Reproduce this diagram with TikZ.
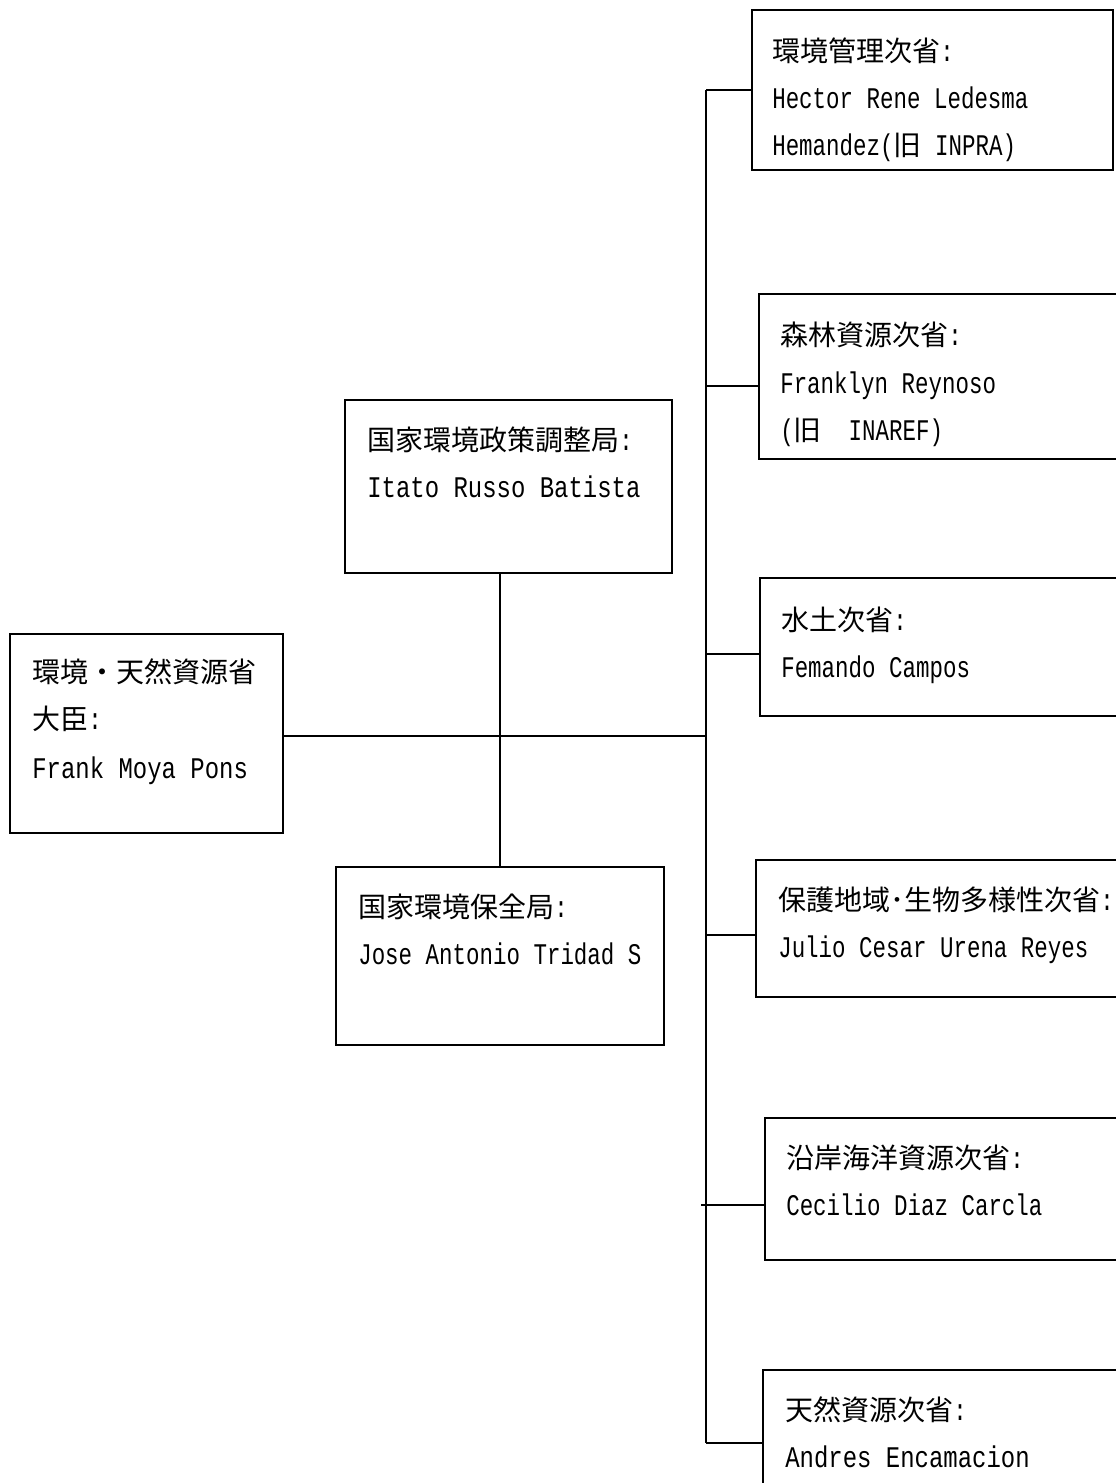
\documentclass[tikz,border=0pt]{standalone}
\usepackage{fontspec}
\setmainfont{Liberation Mono}[FakeStretch=0.75,Scale=1.07]
\newfontfamily\widelat{Liberation Mono}[FakeStretch=0.80,Scale=1.07]
\newfontfamily\cjk{Noto Sans CJK JP}
\usetikzlibrary{fit}
\newcommand\J[1]{{\cjk #1}}
\begin{document}
\begin{tikzpicture}[x=0.75pt,y=-0.75pt,
  box/.style={draw, line width=1.3pt, inner sep=0pt},
  conn/.style={line width=1.3pt},
  txt/.style={anchor=base west, inner sep=0pt, font=\fontsize{21pt}{35pt}\selectfont},
  wtxt/.style={txt, font=\fontsize{21pt}{35pt}\selectfont\widelat}]
\useasboundingbox (0,0) rectangle (1115,1483);
\fill[white] (0,0) rectangle (1115,1483);

% boxes
\node[box, fit={(752,10) (1113,170)}] (b1) {};
\node[box, fit={(759,294) (1120,459)}] (b2) {};
\node[box, fit={(760,578) (1120,716)}] (b3) {};
\node[box, fit={(756,860) (1120,997)}] (b4) {};
\node[box, fit={(765,1118) (1120,1260)}] (b5) {};
\node[box, fit={(763,1370) (1120,1495)}] (b6) {};
\node[box, fit={(10,634) (283,833)}] (mn) {};
\node[box, fit={(345,400) (672,573)}] (um) {};
\node[box, fit={(336,867) (664,1045)}] (lm) {};

% texts
\node[txt] (b1a) at (772,62) {\J{環境管理次省}:};
\node[txt] (b1b) at (772,109) {Hector Rene Ledesma};
\node[txt] (b1c) at (772,156) {Hemandez(\J{旧} INPRA)};

\node[txt] (b2a) at (780,346) {\J{森林資源次省}:};
\node[txt] (b2b) at (780,393) {Franklyn Reynoso};
\node[txt] (b2c) at (780,440) {(\J{旧}\ \ INAREF)};

\node[txt] (b3a) at (781,630) {\J{水土次省}:};
\node[txt] (b3b) at (781,677) {Femando Campos};

\node[txt] (b4a) at (778,910) {\J{保護地域･生物多様性次省}:};
\node[txt] (b4b) at (778,957) {Julio Cesar Urena Reyes};

\node[txt] (b5a) at (786,1168) {\J{沿岸海洋資源次省}:};
\node[txt] (b5b) at (786,1215) {Cecilio Diaz Carcla};

\node[txt] (b6a) at (785,1420) {\J{天然資源次省}:};
\node[wtxt] (b6b) at (785,1467) {Andres Encamacion};

\node[txt] (mna) at (32,682) {\J{環境・天然資源省}};
\node[txt] (mnb) at (32,729) {\J{大臣}:};
\node[wtxt] (mnc) at (32,778) {Frank Moya Pons};

\node[txt] (uma) at (367,450) {\J{国家環境政策調整局}:};
\node[wtxt] (umb) at (367,497) {Itato Russo Batista};

\node[txt] (lma) at (358,917) {\J{国家環境保全局}:};
\node[txt] (lmb) at (358,964) {Jose Antonio Tridad S};

% connectors
\coordinate (tt) at (706,90);
\coordinate (tb) at (706,1443);
\coordinate (j2) at (706,386);
\coordinate (j3) at (706,654);
\coordinate (jm) at (706,736);
\coordinate (j4) at (706,935);
\coordinate (j5) at (701,1205);
\draw[conn] (tt) -- (tb);
\draw[conn] (tt) -- (tt -| b1.west);
\draw[conn] (j2) -- (j2 -| b2.west);
\draw[conn] (j3) -- (j3 -| b3.west);
\draw[conn] (j4) -- (j4 -| b4.west);
\draw[conn] (j5) -- (j5 -| b5.west);
\draw[conn] (tb) -- (tb -| b6.west);
\draw[conn] (jm -| mn.east) -- (jm);
\draw[conn] (lm.north) -- (lm.north |- um.south);
\end{tikzpicture}
\end{document}
